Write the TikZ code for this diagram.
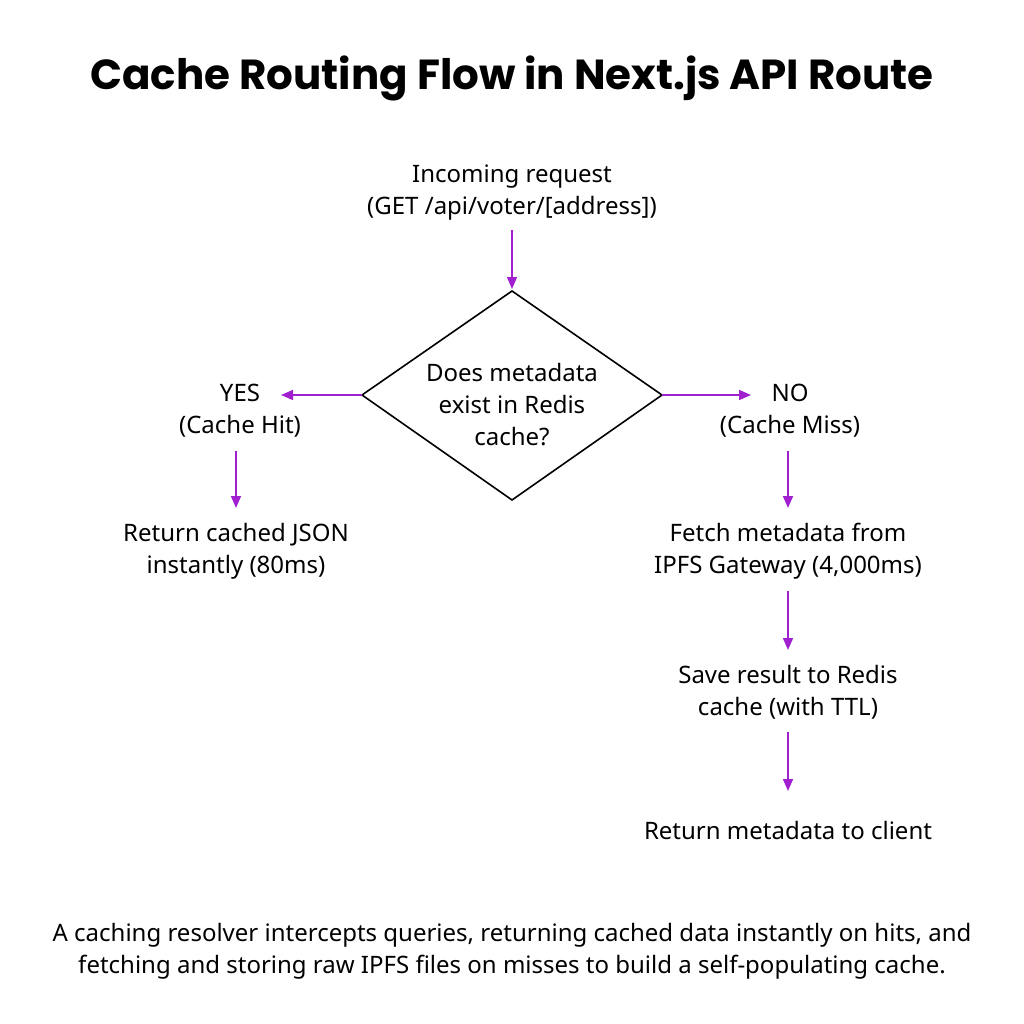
\documentclass[tikz,border=0pt]{standalone}
\usepackage{fontspec}
\setmainfont{Noto Sans}
\newfontfamily\titlefont{Poppins}
\usetikzlibrary{arrows.meta}
\definecolor{arr}{HTML}{A020D0}
\begin{document}
\begin{tikzpicture}[x=1pt,y=-1pt,
  txt/.style={align=center,font=\fontsize{24}{32}\selectfont},
  ar/.style={draw=arr,line width=1.6pt,-{Triangle[length=12pt,width=10pt]}}]
\useasboundingbox (0,0) rectangle (1024,1024);
\node[font=\titlefont\bfseries\fontsize{42}{46}\selectfont] (title) at (512,78) {Cache Routing Flow in Next.js API Route};
\node[txt] (in) at (512,193) {Incoming request\\(GET /api/voter/[address])};
\draw[line width=1.6pt,line join=miter] (512,291) -- (662,395) -- (512,500) -- (362,395) -- cycle;
\coordinate (dt) at (512,291); \coordinate (dl) at (362,395); \coordinate (dr) at (662,395);
\node[txt] (q) at (512,405) {Does metadata\\exist in Redis\\cache?};
\node[txt] (yes) at (240,411) {YES\\(Cache Hit)};
\node[txt] (no) at (790,411) {NO\\(Cache Miss)};
\node[txt] (ret) at (236,551) {Return cached JSON\\instantly (80ms)};
\node[txt] (fetch) at (788,551) {Fetch metadata from\\IPFS Gateway (4,000ms)};
\node[txt] (save) at (788,692) {Save result to Redis\\cache (with TTL)};
\node[txt] (cl) at (788,830) {Return metadata to client};
\node[txt] (cap) at (512,951) {A caching resolver intercepts queries, returning cached data instantly on hits, and\\fetching and storing raw IPFS files on misses to build a self-populating cache.};
\coordinate (a1) at (512,230); \coordinate (a1e) at (512,289);
\draw[ar] (a1) -- (a1e);
\draw[ar] (dl) -- (281,395);
\draw[ar] (dr) -- (751,395);
\draw[ar] (236,451) -- (236,508);
\draw[ar] (788,451) -- (788,508);
\draw[ar] (788,591) -- (788,650);
\draw[ar] (788,732) -- (788,791);
\end{tikzpicture}
\end{document}
